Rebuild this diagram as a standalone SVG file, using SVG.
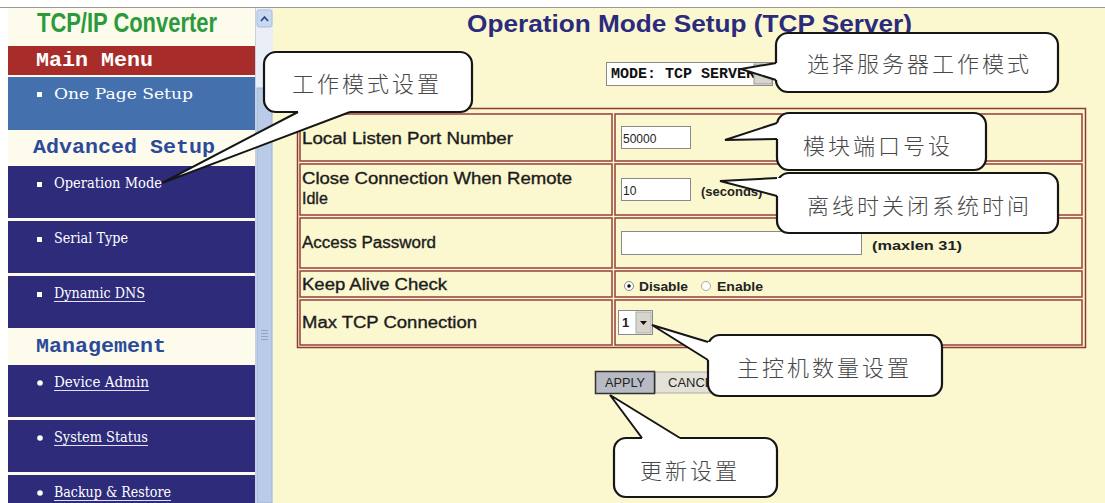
<svg xmlns="http://www.w3.org/2000/svg" width="1105" height="503" viewBox="0 0 1105 503">
<defs><style>
.cj{font-family:"Noto Sans CJK SC","Noto Sans CJK TC",sans-serif;font-size:22px;fill:#484848;letter-spacing:3px;font-weight:300}
.co{fill:#fff;stroke:#161616;stroke-width:2.2}
.tf{fill:#fff;stroke:none}
.ts{fill:none;stroke:#161616;stroke-width:2;stroke-linejoin:miter}
.nav{fill:#2e2b7b}
.lk{font-family:"DejaVu Serif","Liberation Serif",serif;font-size:14px;fill:#fff}
.ul{stroke:#e0e0f0;stroke-width:1}
.bul{fill:#fff}
.hd{font-family:"Liberation Mono",monospace;font-weight:bold;font-size:20px}
.lb{font-family:"Liberation Sans",Arial,sans-serif;font-size:16px;fill:#1c1c1c;stroke:#1c1c1c;stroke-width:0.35}
.vb{font-family:"Liberation Sans",Arial,sans-serif;font-size:13px;font-weight:bold;fill:#222}
.vn{font-family:"Liberation Sans",Arial,sans-serif;font-size:12px;fill:#222}
.cell{fill:none;stroke:#9b4a44;stroke-width:1.6}
.inp{fill:#fff;stroke:#8a8a8a;stroke-width:1}
</style></defs>

<rect width="1105" height="503" fill="#fff"/>
<rect x="273" y="8" width="832" height="495" fill="#fbf7cf"/>
<rect x="8" y="8" width="248" height="495" fill="#fdfbec"/>
<line x1="0" y1="7.5" x2="1105" y2="7.5" stroke="#9a9a9a"/>

<g id="sidebar">
  <text x="37" y="32" font-family="Liberation Sans,Arial,sans-serif" font-weight="bold" font-size="27" fill="#2a9a3c" textLength="180" lengthAdjust="spacingAndGlyphs">TCP/IP Converter</text>
  <g id="main-menu">
    <rect x="8" y="46" width="247" height="29" fill="#a82d2a"/>
    <text class="hd" x="36" y="66" fill="#fff" textLength="117" lengthAdjust="spacingAndGlyphs">Main Menu</text>
  </g>
  <g id="one-page-setup">
    <rect x="8" y="77" width="247" height="53" fill="#4470ae"/>
    <rect class="bul" x="37" y="92" width="5" height="5"/>
    <text class="lk" x="54" y="99" font-size="16" textLength="139" lengthAdjust="spacingAndGlyphs">One Page Setup</text>
  </g>
  <text class="hd" x="33" y="153" fill="#2c4a9a" textLength="182" lengthAdjust="spacingAndGlyphs">Advanced Setup</text>
  <g id="operation-mode">
    <rect class="nav" x="8" y="166" width="247" height="52"/>
    <rect class="bul" x="37" y="182" width="5" height="5"/>
    <text class="lk" x="54" y="188" textLength="108" lengthAdjust="spacingAndGlyphs">Operation Mode</text>
  </g>
  <g id="serial-type">
    <rect class="nav" x="8" y="221" width="247" height="52"/>
    <rect class="bul" x="37" y="237" width="5" height="5"/>
    <text class="lk" x="54" y="243" textLength="74" lengthAdjust="spacingAndGlyphs">Serial Type</text>
  </g>
  <g id="dynamic-dns">
    <rect class="nav" x="8" y="276" width="247" height="52"/>
    <rect class="bul" x="37" y="292" width="5" height="5"/>
    <text class="lk" x="54" y="298" textLength="91" lengthAdjust="spacingAndGlyphs">Dynamic DNS</text>
    <line class="ul" x1="54" y1="301.5" x2="145" y2="301.5"/>
  </g>
  <text class="hd" x="36" y="352" fill="#2c4a9a" textLength="130" lengthAdjust="spacingAndGlyphs">Management</text>
  <g id="device-admin">
    <rect class="nav" x="8" y="365" width="247" height="52"/>
    <circle class="bul" cx="40" cy="383" r="2.8"/>
    <text class="lk" x="54" y="387" textLength="95" lengthAdjust="spacingAndGlyphs">Device Admin</text>
    <line class="ul" x1="54" y1="390.5" x2="149" y2="390.5"/>
  </g>
  <g id="system-status">
    <rect class="nav" x="8" y="420" width="247" height="52"/>
    <circle class="bul" cx="40" cy="438" r="2.8"/>
    <text class="lk" x="54" y="442" textLength="94" lengthAdjust="spacingAndGlyphs">System Status</text>
    <line class="ul" x1="54" y1="445.5" x2="148" y2="445.5"/>
  </g>
  <g id="backup-restore">
    <rect class="nav" x="8" y="475" width="247" height="28"/>
    <circle class="bul" cx="40" cy="493" r="2.8"/>
    <text class="lk" x="54" y="497" textLength="117" lengthAdjust="spacingAndGlyphs">Backup &amp; Restore</text>
    <line class="ul" x1="54" y1="500.5" x2="171" y2="500.5"/>
  </g>
</g>

<g id="scrollbar">
  <rect x="256" y="8" width="17" height="495" fill="#e9eef7"/>
  <line x1="255.5" y1="8" x2="255.5" y2="503" stroke="#c8d0e0"/>
  <rect x="257" y="10" width="15" height="17" rx="2" fill="#c9d8ee" stroke="#a9bcd8"/>
  <polyline points="261,21 264.5,17 268,21" fill="none" stroke="#2b4c8c" stroke-width="1.8"/>
  <rect x="257" y="88" width="15" height="415" fill="#b9cbe6" stroke="#9fb5d6"/>
  <g stroke="#8fa6cc" stroke-width="1">
    <line x1="261" y1="330.5" x2="268" y2="330.5"/>
    <line x1="261" y1="333.5" x2="268" y2="333.5"/>
    <line x1="261" y1="336.5" x2="268" y2="336.5"/>
    <line x1="261" y1="339.5" x2="268" y2="339.5"/>
  </g>
</g>

<g id="page">
  <text x="467" y="32" font-family="Liberation Sans,Arial,sans-serif" font-weight="bold" font-size="24" fill="#2b2b7e" textLength="445" lengthAdjust="spacingAndGlyphs">Operation Mode Setup (TCP Server)</text>
  <g id="mode-select">
    <rect class="inp" x="606.5" y="62.5" width="166" height="23"/>
    <text x="611" y="78" font-family="Liberation Mono,monospace" font-weight="bold" font-size="15" fill="#111">MODE: TCP SERVER</text>
    <rect x="754" y="64" width="18" height="20" fill="#d8d6cc" stroke="#999"/>
  </g>
  <g id="settings-table">
    <rect x="297.5" y="108.5" width="788" height="239" fill="none" stroke="#8b3a36" stroke-width="1.5"/>
    <g id="row-port">
      <rect class="cell" x="300" y="114" width="312" height="47"/>
      <rect class="cell" x="615" y="114" width="467" height="47"/>
      <text class="lb" x="302" y="144" textLength="211" lengthAdjust="spacingAndGlyphs">Local Listen Port Number</text>
      <rect class="inp" x="621.5" y="126.5" width="69" height="22"/>
      <text class="vn" x="623" y="143">50000</text>
    </g>
    <g id="row-idle">
      <rect class="cell" x="300" y="164" width="312" height="51"/>
      <rect class="cell" x="615" y="164" width="467" height="51"/>
      <text class="lb" x="302" y="184" textLength="270" lengthAdjust="spacingAndGlyphs">Close Connection When Remote</text>
      <text class="lb" x="302" y="204">Idle</text>
      <rect class="inp" x="621.5" y="178.5" width="69" height="22"/>
      <text class="vn" x="623" y="195">10</text>
      <text class="vb" x="701" y="196" font-size="14">(seconds)</text>
    </g>
    <g id="row-password">
      <rect class="cell" x="300" y="218" width="312" height="50"/>
      <rect class="cell" x="615" y="218" width="467" height="50"/>
      <text class="lb" x="302" y="248" font-size="15" stroke-width="0.55" textLength="134" lengthAdjust="spacingAndGlyphs">Access Password</text>
      <rect class="inp" x="621.5" y="231.5" width="240" height="23"/>
      <text class="vb" x="872" y="250" textLength="90" lengthAdjust="spacingAndGlyphs">(maxlen  31)</text>
    </g>
    <g id="row-keepalive">
      <rect class="cell" x="300" y="271" width="312" height="26"/>
      <rect class="cell" x="615" y="271" width="467" height="26"/>
      <text class="lb" x="302" y="290" textLength="145" lengthAdjust="spacingAndGlyphs">Keep Alive Check</text>
      <circle cx="629" cy="286" r="4.5" fill="#fff" stroke="#888"/>
      <circle cx="629" cy="286" r="1.8" fill="#111"/>
      <text class="vb" x="639" y="291" textLength="49" lengthAdjust="spacingAndGlyphs">Disable</text>
      <circle cx="706" cy="286" r="4.5" fill="#fff" stroke="#aaa"/>
      <text class="vb" x="717" y="291" textLength="46" lengthAdjust="spacingAndGlyphs">Enable</text>
    </g>
    <g id="row-maxtcp">
      <rect class="cell" x="300" y="300" width="312" height="45"/>
      <rect class="cell" x="615" y="300" width="467" height="45"/>
      <text class="lb" x="302" y="328" textLength="175" lengthAdjust="spacingAndGlyphs">Max TCP Connection</text>
      <rect class="inp" x="618.5" y="310.5" width="34" height="24"/>
      <text class="vb" x="622" y="327">1</text>
      <rect x="636" y="312" width="15" height="21" fill="#d8d6cc" stroke="#aaa"/>
      <polygon points="640,321 647,321 643.5,325" fill="#111"/>
    </g>
  </g>
  <g id="buttons">
    <rect x="655.5" y="372" width="70" height="21" fill="#e4e2d8" stroke="#b0b0a8"/>
    <text x="668" y="387" font-family="Liberation Sans,Arial,sans-serif" font-size="13" fill="#222">CANCEL</text>
    <rect x="595.5" y="371.5" width="59" height="22" fill="#b8bac4" stroke="#333" stroke-width="1.5"/>
    <text x="605" y="387" font-family="Liberation Sans,Arial,sans-serif" font-size="13" fill="#222" textLength="40" lengthAdjust="spacingAndGlyphs">APPLY</text>
  </g>
</g>

<g id="callout-mode-setting">
  <rect class="co" x="264" y="52" width="208" height="60" rx="12"/>
  <text class="cj" x="292" y="92">工作模式设置</text>
</g>
<g id="callout-server-mode">
  <rect class="co" x="776" y="33" width="282" height="59" rx="12"/>
  <text class="cj" x="807" y="72">选择服务器工作模式</text>
</g>
<g id="callout-port">
  <rect class="co" x="777" y="113" width="209" height="57" rx="12"/>
  <text class="cj" x="803" y="154">模块端口号设</text>
</g>
<g id="callout-idle">
  <rect class="co" x="777" y="173" width="281" height="60" rx="12"/>
  <text class="cj" x="807" y="214">离线时关闭系统时间</text>
</g>
<g id="callout-maxtcp">
  <rect class="co" x="708" y="335" width="234" height="61" rx="12"/>
  <text class="cj" x="737" y="376">主控机数量设置</text>
</g>
<g id="callout-apply">
  <rect class="co" x="614" y="438" width="163" height="59" rx="12"/>
  <text class="cj" x="640" y="479">更新设置</text>
</g>

<g id="connectors">
  <polygon class="tf" points="298,108 298,112 162,183 350,112 350,108"/>
  <polyline class="ts" points="298,112 162,183 350,112"/>
  <polygon class="tf" points="780,63 776,63 741,69 776,80 780,80"/>
  <polyline class="ts" points="776,63 741,69 776,80"/>
  <polygon class="tf" points="781,123 777,123 725,140 777,139 781,139"/>
  <polyline class="ts" points="777,123 725,140 777,139"/>
  <polygon class="tf" points="781,178 777,178 720,181 777,196 781,196"/>
  <polyline class="ts" points="777,178 720,181 777,196"/>
  <polygon class="tf" points="712,342 708,342 652,325 708,360 712,360"/>
  <polyline class="ts" points="708,342 652,325 708,360"/>
  <polygon class="tf" points="642,442 642,438 610,395 680,438 680,442"/>
  <polyline class="ts" points="642,438 610,395 680,438"/>
</g>
</svg>
